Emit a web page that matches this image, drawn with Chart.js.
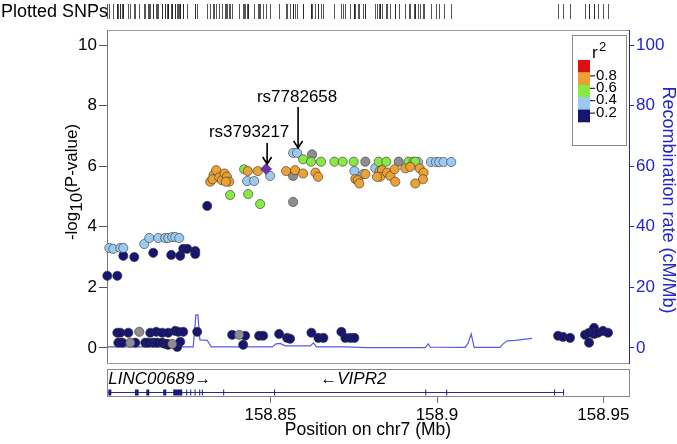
<!DOCTYPE html>
<html>
<head>
<meta charset="utf-8">
<script src="https://cdn.jsdelivr.net/npm/chart.js@4.4.1/dist/chart.umd.min.js"></script>
<style>
  html, body { margin: 0; padding: 0; background: #ffffff; }
</style>
</head>
<body>
<canvas id="chart" width="677" height="444"></canvas>
<script>
// SNP positions (Mb on chr7) and -log10(P) by LD (r2) class
const navyPos = [158.8010, 158.8040, 158.8058, 158.8091, 158.8148, 158.8202, 158.8229, 158.8238, 158.8250, 158.8274, 158.8274, 158.8310,
  158.8040, 158.8049, 158.8073, 158.8139, 158.8157, 158.8175, 158.8193, 158.8214, 158.8223, 158.8238, 158.8280, 158.8385,
  158.8424, 158.8466, 158.8478, 158.8526, 158.8550, 158.8559, 158.8623, 158.8644, 158.8659, 158.8713, 158.8725, 158.8740,
  158.8752, 158.9364, 158.9379, 158.9400, 158.9445, 158.9457, 158.9472, 158.9472, 158.9484, 158.9499, 158.9514, 158.9457,
  158.8043, 158.8055, 158.8094, 158.8124, 158.8133, 158.8148, 158.8160, 158.8175, 158.8184, 158.8190, 158.8193, 158.8220,
  158.8229, 158.8418];
const navyLogP = [2.38, 2.38, 3.04, 3.00, 3.14, 3.07, 3.04, 3.27, 3.27, 3.20, 3.10, 4.69,
  0.50, 0.50, 0.50, 0.50, 0.53, 0.50, 0.50, 0.56, 0.53, 0.53, 0.53, 0.43,
  0.40, 0.40, 0.40, 0.46, 0.33, 0.30, 0.50, 0.33, 0.33, 0.53, 0.33, 0.33,
  0.33, 0.40, 0.36, 0.33, 0.43, 0.50, 0.66, 0.46, 0.50, 0.56, 0.50, 0.17,
  0.17, 0.17, 0.17, 0.17, 0.17, 0.17, 0.17, 0.17, 0.13, 0.13, 0.10, 0.03,
  0.20, 0.10];

const skyPos = [158.8016, 158.8028, 158.8049, 158.8058, 158.8121, 158.8136, 158.8163, 158.8184, 158.8193, 158.8205, 158.8214, 158.8226,
  158.8430, 158.8451, 158.8499, 158.8568, 158.8580, 158.8752, 158.8779, 158.8815, 158.8943, 158.8982, 158.8997, 158.9007,
  158.9020, 158.9043];
const skyLogP = [3.30, 3.27, 3.30, 3.30, 3.43, 3.63, 3.63, 3.63, 3.63, 3.66, 3.66, 3.63,
  5.51, 5.51, 5.68, 6.44, 6.44, 5.84, 5.74, 5.94, 6.14, 6.14, 6.14, 6.14,
  6.14, 6.14];

const greenPos = [158.8379, 158.8433, 158.8469, 158.8421, 158.8598, 158.8622, 158.8652, 158.8692, 158.8717, 158.8750, 158.8825,
  158.8848, 158.8915, 158.8930, 158.8935];
const greenLogP = [5.05, 5.08, 4.75, 5.90, 6.23, 6.15, 6.15, 6.15, 6.15, 6.15, 6.15,
  6.15, 6.15, 6.15, 6.15];

const orangePos = [158.8319, 158.8329, 158.8337, 158.8326, 158.8346, 158.8354, 158.8362, 158.8369, 158.8376, 158.8366,
  158.8432, 158.8462, 158.8547, 158.8574, 158.8598, 158.8635, 158.8643, 158.8755, 158.8762, 158.8767, 158.8785,
  158.8828, 158.8835, 158.8830, 158.8820, 158.8850, 158.8860, 158.8875, 158.8873, 158.8905, 158.8920, 158.8948,
  158.8960, 158.8958, 158.8935];
const orangeLogP = [5.49, 5.71, 5.87, 5.57, 5.63, 5.54, 5.76, 5.65, 5.49, 5.49,
  5.84, 5.84, 5.84, 5.87, 5.76, 5.79, 5.65, 5.58, 5.54, 5.43, 5.74,
  5.84, 5.87, 5.65, 5.65, 5.79, 5.68, 5.49, 5.90, 5.93, 5.98, 5.93,
  5.79, 5.57, 5.43];

const greyPos = [158.8625, 158.8785, 158.8885, 158.8568, 158.8568, 158.8106, 158.8079, 158.8205, 158.8406];
const greyLogP = [6.39, 6.15, 6.15, 5.68, 4.82, 0.53, 0.17, 0.13, 0.43];

const leadPos = [158.8487];
const leadLogP = [5.91];

// recombination rate (cM/Mb)
const recombPos = [158.8010, 158.8268, 158.8276, 158.8282, 158.8288, 158.8310, 158.8322, 158.8505, 158.8517, 158.8529,
  158.8544, 158.8620, 158.8629, 158.8638, 158.8725, 158.8788, 158.8965, 158.8974, 158.8980, 158.9085, 158.9094,
  158.9103, 158.9112, 158.9190, 158.9199, 158.9211, 158.9235, 158.9286];
const recombRate = [0.33, 0.33, 10.9, 10.9, 2.64, 2.5, 0.33, 0.33, 1.32, 1.49,
  0.66, 0.66, 1.65, 0.33, 0.33, 0.05, 0.05, 1.32, 0.2, 0.17, 1.65,
  4.62, 0.17, 0.17, 1.32, 2.31, 2.48, 3.14];

// labelled SNPs
const snpNames = ['rs3793217', 'rs7782658'];
const snpPos = [158.8487, 158.8580];
const snpLogP = [5.91, 6.44];

// gene track
const geneLine = [158.8013, 158.9379];
const exonStart = [158.8013, 158.8093, 158.8127, 158.8178, 158.8208, 158.8247, 158.8259, 158.8272, 158.8286, 158.8294,
  158.8358, 158.8511, 158.8965, 158.9028, 158.9352, 158.9379];
const exonEnd = [158.8022, 158.8104, 158.8136, 158.8187, 158.8235, 158.8247, 158.8259, 158.8272, 158.8286, 158.8294,
  158.8358, 158.8511, 158.8965, 158.9028, 158.9352, 158.9379];
const geneNames = ['LINC00689\u2192', '\u2190VIPR2'];
const geneLabelPos = [158.8013, 158.8749];

// axis ticks
const xTicks = [158.85, 158.9, 158.95];
const yTicks = [0, 2, 4, 6, 8, 10];
const y2Ticks = [0, 20, 40, 60, 80, 100];

// r2 key
const ldBreaks = ['0.8', '0.6', '0.4', '0.2'];
const ldKeyColors = ['#E01010', '#EBA133', '#88E844', '#9CC9F0', '#161670'];

const FONT = '"Liberation Sans", Arial, sans-serif';
const BLUE = '#2424C8';

function pts(xs, ys) { return xs.map((x, i) => ({ x: x, y: ys[i] })); }

function snpSet(xs, ys, color, order, style, r) {
  return {
    type: 'scatter', data: pts(xs, ys), yAxisID: 'y', order: order, clip: false,
    pointStyle: style || 'circle', pointRadius: r || 4.6,
    backgroundColor: color, borderColor: 'rgba(50,50,50,0.85)', borderWidth: 0.7
  };
}

const decor = {
  id: 'decor',
  afterDraw(chart) {
    const c = chart.ctx, a = chart.chartArea;
    const xs = chart.scales.x, ys = chart.scales.y;
    c.save();

    // plot frame top and bottom
    c.strokeStyle = '#999'; c.lineWidth = 1;
    c.beginPath();
    c.moveTo(a.left, a.top + 0.5); c.lineTo(a.right, a.top + 0.5);
    c.moveTo(a.left, a.bottom + 0.5); c.lineTo(a.right, a.bottom + 0.5);
    c.stroke();

    // plotted SNPs rug
    c.fillStyle = '#000'; c.font = '18px ' + FONT; c.textBaseline = 'middle'; c.textAlign = 'left';
    c.fillText('Plotted SNPs', 1, 12);
    c.strokeStyle = 'rgba(30,30,30,0.75)';
    c.beginPath();
    [navyPos, skyPos, greenPos, orangePos, greyPos, leadPos].forEach(arr => arr.forEach(v => {
      const px = Math.round(xs.getPixelForValue(v)) + 0.5;
      c.moveTo(px, 4); c.lineTo(px, 19);
    }));
    c.stroke();

    // y axis titles
    c.font = '17px ' + FONT; c.textBaseline = 'middle';
    c.save();
    c.translate(72, 182); c.rotate(-Math.PI / 2);
    const p1 = '-log', p2 = '10', p3 = '(P-value)';
    const w1 = c.measureText(p1).width, w2 = c.measureText(p2).width, w3 = c.measureText(p3).width;
    let x0 = -(w1 + w2 + w3) / 2;
    c.fillText(p1, x0, 0); c.fillText(p2, x0 + w1, 5); c.fillText(p3, x0 + w1 + w2, 0);
    c.restore();
    c.save();
    c.font = '18px ' + FONT;
    c.translate(668, 200); c.rotate(Math.PI / 2);
    c.fillStyle = BLUE; c.textAlign = 'center';
    c.fillText('Recombination rate (cM/Mb)', 0, 0);
    c.restore();

    // r2 key
    c.strokeStyle = '#888';
    c.strokeRect(572.5, 35.5, 54, 110);
    c.fillStyle = '#000'; c.textAlign = 'left'; c.textBaseline = 'alphabetic';
    c.font = '17px ' + FONT; c.fillText('r', 592, 58);
    c.font = '13px ' + FONT; c.fillText('2', 599, 51);
    const bandH = 12.4;
    ldKeyColors.forEach((col, i) => {
      c.fillStyle = col;
      c.fillRect(578, 60 + i * bandH, 12, bandH + 0.3);
    });
    c.fillStyle = '#000'; c.font = '15px ' + FONT; c.textBaseline = 'middle';
    c.strokeStyle = '#000';
    ldBreaks.forEach((t, i) => {
      const yy = 60 + (i + 1) * bandH + 3;
      c.beginPath(); c.moveTo(590, yy + 0.5); c.lineTo(595, yy + 0.5); c.stroke();
      c.fillText(t, 596, yy);
    });

    // labelled SNP arrows
    c.strokeStyle = '#000'; c.fillStyle = '#000'; c.lineWidth = 1.6;
    c.font = '17px ' + FONT; c.textAlign = 'center'; c.textBaseline = 'middle';
    const tail = [26, 46], lab = [37, 56], labShift = [-18, -1];
    snpNames.forEach((n, i) => {
      const px = xs.getPixelForValue(snpPos[i]) + 1, py = ys.getPixelForValue(snpLogP[i]);
      const tip = py - 5;
      c.beginPath();
      c.moveTo(px, py - tail[i]); c.lineTo(px, tip);
      c.moveTo(px - 4.5, tip - 7); c.lineTo(px, tip); c.lineTo(px + 4.5, tip - 7);
      c.stroke();
      c.fillText(n, px + labShift[i], py - lab[i]);
    });

    // gene track
    c.lineWidth = 1; c.strokeStyle = '#888';
    c.strokeRect(a.left + 0.5, 369.5, a.right - a.left, 27);
    const gy = 392;
    c.strokeStyle = '#2A2A90';
    c.beginPath();
    c.moveTo(xs.getPixelForValue(geneLine[0]), gy + 0.5);
    c.lineTo(xs.getPixelForValue(geneLine[1]), gy + 0.5);
    c.stroke();
    c.fillStyle = '#1A1A7A';
    exonStart.forEach((s, i) => {
      const x1 = xs.getPixelForValue(s), x2 = xs.getPixelForValue(exonEnd[i]);
      c.fillRect(x1, gy - 2.5, Math.max(1, x2 - x1), 6);
    });
    c.fillStyle = '#000'; c.font = 'italic 17px ' + FONT; c.textBaseline = 'middle';
    c.textAlign = 'left';
    c.fillText(geneNames[0], xs.getPixelForValue(geneLabelPos[0]), 379);
    c.textAlign = 'center';
    c.fillText(geneNames[1], xs.getPixelForValue(geneLabelPos[1]), 379);

    // x tick marks under the gene track
    c.strokeStyle = '#777';
    c.beginPath();
    xTicks.forEach(v => {
      const px = Math.round(xs.getPixelForValue(v)) + 0.5;
      c.moveTo(px, 397); c.lineTo(px, 403);
    });
    c.stroke();
    c.restore();
  }
};

new Chart(document.getElementById('chart').getContext('2d'), {
  data: {
    datasets: [
      {
        type: 'line', data: pts(recombPos, recombRate), yAxisID: 'y2', order: 10,
        borderColor: '#5A5AE8', borderWidth: 1.2, pointRadius: 0, tension: 0, fill: false
      },
      snpSet(navyPos, navyLogP, '#161670', 6),
      snpSet(greyPos, greyLogP, '#8E8E8E', 5),
      snpSet(skyPos, skyLogP, '#9CC9F0', 4),
      snpSet(greenPos, greenLogP, '#88E844', 3),
      snpSet(orangePos, orangeLogP, '#EBA133', 2),
      snpSet(leadPos, leadLogP, '#7030B0', 1, 'rectRot', 5.5)
    ]
  },
  options: {
    responsive: false,
    animation: false,
    devicePixelRatio: 1,
    layout: { padding: { top: 30, left: 0, right: 0, bottom: 0 } },
    plugins: { legend: { display: false }, tooltip: { enabled: false } },
    scales: {
      x: {
        type: 'linear', position: 'bottom', min: 158.8009, max: 158.9577,
        afterBuildTicks: s => { s.ticks = xTicks.map(v => ({ value: v })); },
        afterFit: s => { s.height = 81; },
        grid: { display: false, drawTicks: false },
        border: { display: false },
        ticks: { color: '#000', font: { family: FONT, size: 17 }, padding: 42, maxRotation: 0, autoSkip: false,
          callback: v => String(v) },
        title: { display: true, text: 'Position on chr7 (Mb)', color: '#000', font: { family: FONT, size: 17.5 },
          padding: { top: 0, bottom: 3 } }
      },
      y: {
        type: 'linear', position: 'left', min: -0.5, max: 10.5,
        afterBuildTicks: s => { s.ticks = yTicks.map(v => ({ value: v })); },
        afterFit: s => { s.width = 107; },
        grid: { drawOnChartArea: false, tickLength: 8, color: '#555' },
        border: { color: '#777' },
        ticks: { color: '#000', font: { family: FONT, size: 17 }, padding: 2 }
      },
      y2: {
        type: 'linear', position: 'right', min: -5, max: 105,
        afterBuildTicks: s => { s.ticks = y2Ticks.map(v => ({ value: v })); },
        afterFit: s => { s.width = 48; },
        grid: { drawOnChartArea: false, tickLength: 5, color: BLUE },
        border: { color: BLUE },
        ticks: { color: BLUE, font: { family: FONT, size: 17 }, padding: 2 }
      }
    }
  },
  plugins: [decor]
});
</script>
</body>
</html>
